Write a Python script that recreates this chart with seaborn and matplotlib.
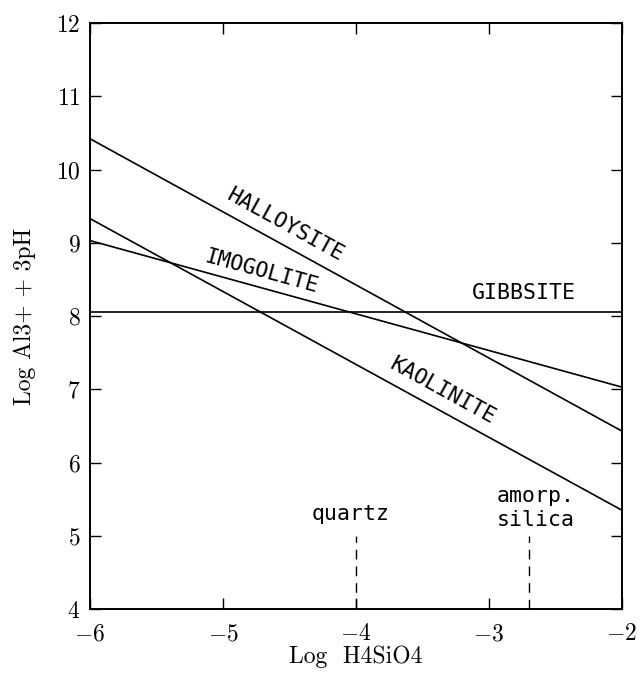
import matplotlib
matplotlib.use("Agg")
import matplotlib.pyplot as plt
import seaborn as sns
import pandas as pd

# Data
log_h4sio4 = [-6, -2]
halloysite = [10.42, 6.43]
kaolinite = [9.33, 5.35]
imogolite = [9.03, 7.03]
gibbsite = [8.05, 8.05]
minerals = ["HALLOYSITE", "KAOLINITE", "IMOGOLITE", "GIBBSITE"]

silica_names = ["quartz", "amorp.\nsilica"]
silica_x = [-4.0, -2.7]
silica_top = [5.0, 5.0]

xticks = [-6, -5, -4, -3, -2]
yticks = [4, 5, 6, 7, 8, 9, 10, 11, 12]

sns.set_theme(style="ticks")
plt.rcParams["font.family"] = ["serif"]
plt.rcParams["font.serif"] = ["cmr10", "DejaVu Serif"]
plt.rcParams["axes.formatter.use_mathtext"] = True
plt.rcParams["mathtext.fontset"] = "cm"

rows = []
for name, vals in zip(minerals, [halloysite, kaolinite, imogolite, gibbsite]):
    for xv, yv in zip(log_h4sio4, vals):
        rows.append({"x": xv, "y": yv, "mineral": name})
df = pd.DataFrame(rows)

fig = plt.figure(figsize=(6.43, 6.77), dpi=100)
ax = fig.add_axes([0.14, 0.1004, 0.827, 0.8656])

sns.lineplot(data=df, x="x", y="y", units="mineral", estimator=None,
             color="black", linewidth=1.2, ax=ax, legend=False)

for sx, st in zip(silica_x, silica_top):
    ax.plot([sx, sx], [4, st], color="black", linestyle=(0, (7, 5)), linewidth=1.0)

ax.set_xlim(-6, -2)
ax.set_ylim(4, 12)
ax.set_xticks(xticks)
ax.set_yticks(yticks)
ax.tick_params(direction="in", top=True, right=True, length=8, width=1,
               labelsize=17, colors="black", pad=7)
ax.tick_params(axis="x", pad=10)
for s in ax.spines.values():
    s.set_color("black")
    s.set_linewidth(1.4)

ax.set_xlabel("Log  H4SiO4", fontsize=17, color="black", labelpad=0)
ax.set_ylabel("Log Al3+ + 3pH", fontsize=17, color="black", labelpad=14)

mono = dict(family="DejaVu Sans Mono", fontsize=15.5, color="black",
            ha="center", va="center")
ax.text(-4.53, 9.24, "HALLOYSITE", rotation=-28.8, **mono)
ax.text(-4.71, 8.61, "IMOGOLITE", rotation=-15.4, **mono)
ax.text(-2.74, 8.32, "GIBBSITE", rotation=0, **mono)
ax.text(-3.35, 6.98, "KAOLINITE", rotation=-28.8, **mono)
ax.text(-4.04, 5.30, silica_names[0], **mono)
ax.text(-2.65, 5.38, silica_names[1], linespacing=1.25, **mono)

fig.savefig("out.png", dpi=100)
